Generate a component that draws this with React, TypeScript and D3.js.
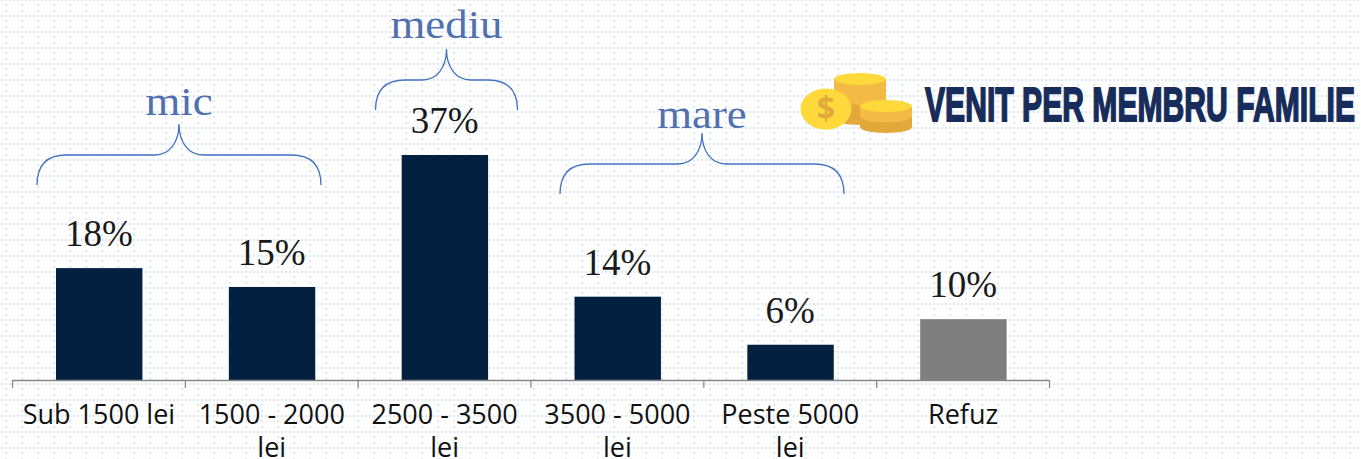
import React from "react";
import * as d3 from "d3";

const categories = ["Sub 1500 lei", "1500 - 2000 lei", "2500 - 3500 lei", "3500 - 5000 lei", "Peste 5000 lei", "Refuz"];
const values = [18.4, 15.3, 37, 13.7, 5.8, 10];
const valueLabels = ["18%", "15%", "37%", "14%", "6%", "10%"];
const groupNames = ["mic", "mediu", "mare"];

const barColors = ["#022040", "#022040", "#022040", "#022040", "#022040", "#7f7f7f"];
const groupSpans = [[36.5, 321.5], [375, 518], [559.5, 844.5]];
const groupLevels = [155, 80, 164];
const groupBaselines = [115, 38, 128];

const W = 1361, H = 459;
const x = d3.scaleBand<string>().domain(categories).range([12.5, 1049.5]).paddingInner(0).paddingOuter(0);
const y = d3.scaleLinear().domain([0, 37]).range([380, 155]);
const serif = "'Liberation Serif','DejaVu Serif',serif";
const sans = "'Open Sans','Noto Sans',sans-serif";
const blue = "#4472c4";
const dot = "#dde8f5";

function brace(x0: number, x1: number, yb: number) {
  const mid = (x0 + x1) / 2, r = 30;
  const p = d3.path();
  p.moveTo(x0 + 0.5, yb + 30);
  p.bezierCurveTo(x0 + 0.5, yb + 12, x0 + 8, yb, x0 + r, yb);
  p.lineTo(mid - 24, yb);
  p.bezierCurveTo(mid - 10, yb, mid, yb - 12, mid, yb - 31);
  p.bezierCurveTo(mid, yb - 12, mid + 10, yb, mid + 24, yb);
  p.lineTo(x1 - r, yb);
  p.bezierCurveTo(x1 - 8, yb, x1 - 0.5, yb + 12, x1 - 0.5, yb + 30);
  return p.toString();
}

function wrap(s: string): string[] {
  if (s.length <= 12) return [s];
  const i = s.lastIndexOf(" ");
  return [s.slice(0, i), s.slice(i + 1)];
}

function Coin({ cx, top, rx, ry, h }: { cx: number; top: number; rx: number; ry: number; h: number }) {
  return (
    <g>
      <path d={`M${cx - rx},${top} V${top + h} A${rx},${ry} 0 0 0 ${cx + rx},${top + h} V${top} Z`} fill="#e3a83c" />
      <path d={`M${cx - rx},${top} V${top + h / 2} A${rx},${ry} 0 0 0 ${cx + rx},${top + h / 2} V${top} Z`} fill="#f5b945" />
      <ellipse cx={cx} cy={top} rx={rx} ry={ry} fill="#ffd93b" />
    </g>
  );
}

export default function App() {
  return (
    <svg width={W} height={H} style={{ position: "absolute", left: 0, top: 0, background: "#fff" }}>
      <defs>
        <pattern id="grid" x={0} y={0} width={16} height={16} patternUnits="userSpaceOnUse">
          {[1, 5, 9, 13].map((v) => (
            <g key={"h" + v}>
              <rect x={v} y={15} width={2} height={2} fill={dot} />
              <rect x={v} y={-1} width={2} height={2} fill={dot} />
            </g>
          ))}
          {[4, 10].map((v) => (
            <rect key={"v" + v} x={5} y={v} width={2} height={2} fill={dot} />
          ))}
        </pattern>
      </defs>
      <rect width={W} height={H} fill="url(#grid)" />

      {categories.map((c, i) => {
        const bw = x.bandwidth();
        const bx = x(c)! + bw / 4;
        return (
          <g key={c}>
            <rect x={bx + 0.3} y={y(values[i])} width={bw / 2} height={380 - y(values[i])} fill={barColors[i]} />
            <text x={bx + bw / 4} y={y(values[i]) - 22} textAnchor="middle" fontFamily={serif} fontSize={37} fill="#1a1a1a">
              {valueLabels[i]}
            </text>
            {wrap(c).map((t, j) => (
              <text key={j} x={bx + bw / 4} y={424 + j * 33} textAnchor="middle" fontFamily={sans} fontSize={27} fill="#111">
                {t}
              </text>
            ))}
          </g>
        );
      })}

      <line x1={12.5} x2={1049.5} y1={380.5} y2={380.5} stroke="#868686" strokeWidth={1.5} />
      {[...categories.map((c) => x(c)!), 1049.5].map((t, i) => (
        <line key={i} x1={t} x2={t} y1={380} y2={388} stroke="#868686" strokeWidth={1.2} />
      ))}

      {groupNames.map((g, i) => {
        const [a, b] = groupSpans[i];
        const cx = (a + b) / 2;
        return (
          <g key={g}>
            <path d={brace(a, b, groupLevels[i])} fill="none" stroke={blue} strokeWidth={1.3} />
            <text transform={`translate(${cx},${groupBaselines[i]}) scale(1.12,1)`} textAnchor="middle" fontFamily={serif} fontSize={40} fill="#5070b0">
              {g}
            </text>
          </g>
        );
      })}

      <Coin cx={860} top={79} rx={26} ry={6} h={40} />
      <Coin cx={886} top={106} rx={26} ry={6} h={21} />
      <ellipse cx={826} cy={109} rx={25.5} ry={20.5} fill="#ffd93b" />
      <text x={826} y={120} textAnchor="middle" fontFamily={sans} fontWeight={700} fontSize={32} fill="#e3a83c">$</text>

      <text x={925} y={121} textLength={430} lengthAdjust="spacingAndGlyphs" fontFamily="'Liberation Sans','Roboto',sans-serif" fontWeight={700} fontSize={48} fill="#172c5a" stroke="#172c5a" strokeWidth={1.8}>
        VENIT PER MEMBRU FAMILIE
      </text>
    </svg>
  );
}
